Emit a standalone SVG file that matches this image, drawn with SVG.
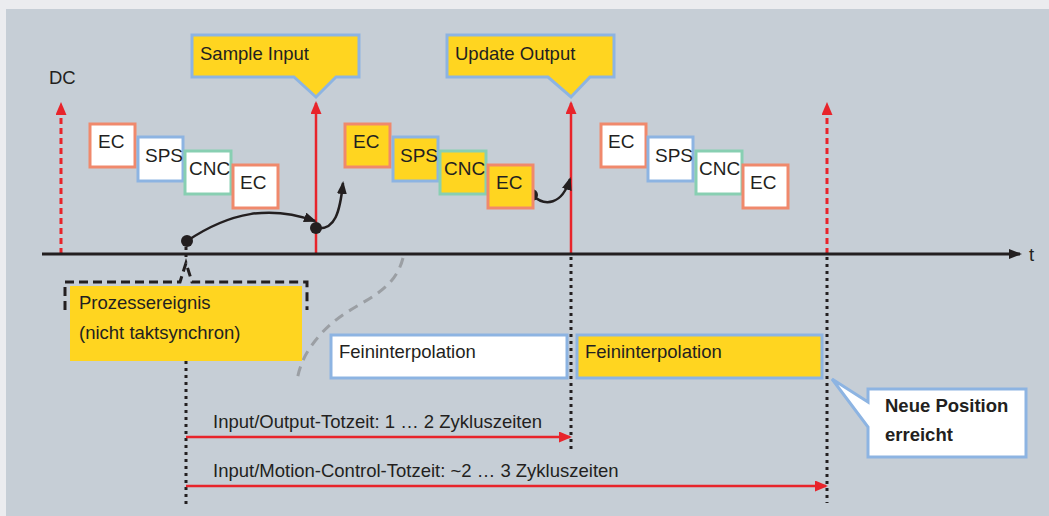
<svg xmlns="http://www.w3.org/2000/svg" width="1049" height="516" viewBox="0 0 1049 516">
<style>
.t{font-family:"Liberation Sans",Arial,sans-serif;font-size:18.5px;fill:#231f20}
.bx{font-size:19px}
.b{font-weight:bold}
.ec{stroke:#f0896c;stroke-width:3}
.sps{stroke:#8db4e2;stroke-width:3}
.cnc{stroke:#88cfb2;stroke-width:3}
.w{fill:#ffffff}
.y{fill:#ffd520}
.call{stroke:#8db4e2;stroke-width:3}
.red{stroke:#e8242b;stroke-width:2.5;fill:none}
.reddash{stroke:#e8242b;stroke-width:3;stroke-dasharray:6 4;fill:none}
.blk{stroke:#231f20;stroke-width:2.5;fill:none}
.dot{stroke:#231f20;stroke-width:3;stroke-dasharray:3 4;fill:none}
.dash{stroke:#231f20;stroke-width:3;stroke-dasharray:9 5;fill:none}
.grey{stroke:#9b9fa4;stroke-width:3;stroke-dasharray:10 7;fill:none}
</style>
<defs>
<marker id="ar" markerUnits="userSpaceOnUse" markerWidth="13" markerHeight="11" viewBox="0 0 13 11" refX="11" refY="5.5" orient="auto"><path d="M0,0 L13,5.5 L0,11 z" fill="#e8242b"/></marker>
<marker id="ab" markerUnits="userSpaceOnUse" markerWidth="13" markerHeight="10" viewBox="0 0 13 10" refX="11" refY="5" orient="auto"><path d="M0,0 L13,5 L0,10 z" fill="#231f20"/></marker>
</defs>
<rect x="0" y="0" width="1049" height="516" fill="#ebecef"/>
<rect x="6" y="9" width="1043" height="507" fill="#c6ced6"/>

<g id="connectors">
<line class="reddash" x1="61" y1="254" x2="61" y2="104" marker-end="url(#ar)"/>
<line class="red" x1="316" y1="254" x2="316" y2="103" marker-end="url(#ar)"/>
<line class="red" x1="571" y1="254" x2="571" y2="103" marker-end="url(#ar)"/>
<line class="reddash" x1="827" y1="254" x2="827" y2="104" marker-end="url(#ar)"/>
<line x1="42" y1="254" x2="1020" y2="254" stroke="#231f20" stroke-width="3" marker-end="url(#ab)"/>
<line class="dot" x1="571" y1="257" x2="571" y2="453"/>
<line class="dot" x1="827" y1="257" x2="827" y2="503"/>
<line class="dot" x1="186" y1="361" x2="186" y2="505"/>
<line class="dot" x1="186" y1="247" x2="186" y2="258"/>
<path class="grey" d="M403,258 C392,300 350,300 320,335 C305,352 300,365 297,380"/>
<path class="blk" d="M187,241 C230,212 270,205 315,221" marker-end="url(#ab)"/>
<path class="blk" d="M316,228 C335,231 340,212 343,183" marker-end="url(#ab)"/>
<path class="blk" d="M532,195 C545,207 562,205 570,179" marker-end="url(#ab)"/>
<circle cx="187" cy="241" r="6" fill="#231f20"/>
<circle cx="316" cy="228" r="6" fill="#231f20"/>
<circle cx="532" cy="195" r="6" fill="#231f20"/>
<line class="red" x1="186" y1="437" x2="570" y2="437" marker-end="url(#ar)"/>
<line class="red" x1="186" y1="486" x2="826" y2="486" marker-end="url(#ar)"/>
</g>

<text class="t" x="49" y="84">DC</text>
<text class="t" x="1029" y="261">t</text>

<g id="sample-input">
<path class="call y" d="M192,35 H359 V77 H336 L316,97 L294,77 H192 Z"/>
<text class="t" x="200" y="60">Sample Input</text>
</g>
<g id="update-output">
<path class="call y" d="M447,35 H614 V77 H590 L571,97 L548,77 H447 Z"/>
<text class="t" x="455" y="60">Update Output</text>
</g>

<g id="cycle1">
<g id="c1-ec1"><rect class="ec w" x="90" y="124" width="45" height="43"/><text class="t bx" x="98" y="148">EC</text></g>
<g id="c1-sps"><rect class="sps w" x="138" y="137" width="45" height="44"/><text class="t bx" x="145" y="162">SPS</text></g>
<g id="c1-cnc"><rect class="cnc w" x="185" y="151" width="46" height="43"/><text class="t bx" x="189" y="175">CNC</text></g>
<g id="c1-ec2"><rect class="ec w" x="233" y="165" width="45" height="43"/><text class="t bx" x="240" y="189">EC</text></g>
</g>
<g id="cycle2">
<g id="c2-ec1"><rect class="ec y" x="345" y="124" width="45" height="43"/><text class="t bx" x="353" y="148">EC</text></g>
<g id="c2-sps"><rect class="sps y" x="393" y="137" width="45" height="44"/><text class="t bx" x="400" y="162">SPS</text></g>
<g id="c2-cnc"><rect class="cnc y" x="440" y="151" width="46" height="43"/><text class="t bx" x="444" y="175">CNC</text></g>
<g id="c2-ec2"><rect class="ec y" x="488" y="165" width="45" height="43"/><text class="t bx" x="496" y="189">EC</text></g>
</g>
<g id="cycle3">
<g id="c3-ec1"><rect class="ec w" x="601" y="124" width="45" height="43"/><text class="t bx" x="608" y="148">EC</text></g>
<g id="c3-sps"><rect class="sps w" x="648" y="137" width="45" height="44"/><text class="t bx" x="655" y="162">SPS</text></g>
<g id="c3-cnc"><rect class="cnc w" x="696" y="151" width="46" height="43"/><text class="t bx" x="699" y="175">CNC</text></g>
<g id="c3-ec2"><rect class="ec w" x="743" y="165" width="45" height="43"/><text class="t bx" x="750" y="189">EC</text></g>
</g>

<g id="prozessereignis">
<path class="dash" d="M65,310 V282 H180 L186,263 L192,282 H307 V310"/>
<rect x="70" y="286" width="232" height="75" fill="#ffd520"/>
<text class="t" x="79" y="309">Prozessereignis</text>
<text class="t" x="79" y="339">(nicht taktsynchron)</text>
</g>

<g id="fein1">
<rect class="call w" x="331" y="335" width="236" height="43"/>
<text class="t" x="339" y="358">Feininterpolation</text>
</g>
<g id="fein2">
<rect class="call y" x="577" y="335" width="245" height="43"/>
<text class="t" x="585" y="358">Feininterpolation</text>
</g>

<g id="neue-position">
<path class="call w" d="M868,389 H1026 V457 H868 V427 L832,379 L868,402 Z"/>
<text class="t b" x="885" y="412">Neue Position</text>
<text class="t b" x="885" y="441">erreicht</text>
</g>

<text class="t" x="213" y="428">Input/Output-Totzeit: 1 … 2 Zykluszeiten</text>
<text class="t" x="213" y="477">Input/Motion-Control-Totzeit: ~2 … 3 Zykluszeiten</text>
</svg>
